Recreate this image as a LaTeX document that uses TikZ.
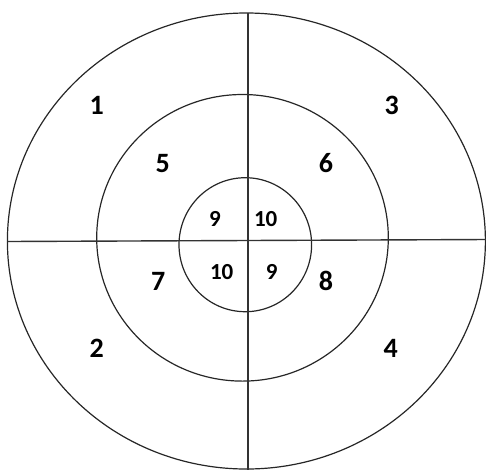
\documentclass[tikz,border=0pt]{standalone}
\usepackage{fontspec}
\setmainfont{Carlito}
\begin{document}
\begin{tikzpicture}[x=1pt,y=1pt,
  ring/.style={draw=black!85,line width=1.2pt},
  axis/.style={draw=black!80,line width=1.4pt},
  big/.style={font=\fontsize{28}{28}\selectfont\bfseries,inner sep=0pt},
  small/.style={font=\fontsize{23}{23}\selectfont\bfseries,inner sep=0pt}]
\useasboundingbox (0,0) rectangle (486,-469);
% rings
\draw[ring] (246.4,-241) ellipse [x radius=239pt,y radius=228pt];
\draw[ring] (242.5,-237.8) ellipse [x radius=145.8pt,y radius=143.3pt];
\draw[ring] (245.3,-244.7) ellipse [x radius=66.3pt,y radius=67pt];
% axes
\coordinate (top) at (248,-13.3);
\coordinate (bottom) at (248,-472);
\coordinate (left) at (7.5,-241.5);
\coordinate (right) at (487,-239.5);
\draw[axis] (top) -- (bottom);
\draw[axis] (left) -- (right);
% labels
\node[big] (n1) at (96.7,-105) {1};
\node[big] (n3) at (391.7,-105) {3};
\node[big] (n5) at (162.7,-163.3) {5};
\node[big] (n6) at (326,-163.3) {6};
\node[big] (n7) at (158.3,-281) {7};
\node[big] (n8) at (326,-281) {8};
\node[big] (n2) at (96.7,-348.3) {2};
\node[big] (n4) at (390.7,-348.3) {4};
\node[small] (a9) at (215,-219) {9};
\node[small] (a10) at (265.7,-219) {10};
\node[small] (b10) at (221.7,-272.3) {10};
\node[small] (b9) at (271.7,-272.3) {9};
\end{tikzpicture}
\end{document}
